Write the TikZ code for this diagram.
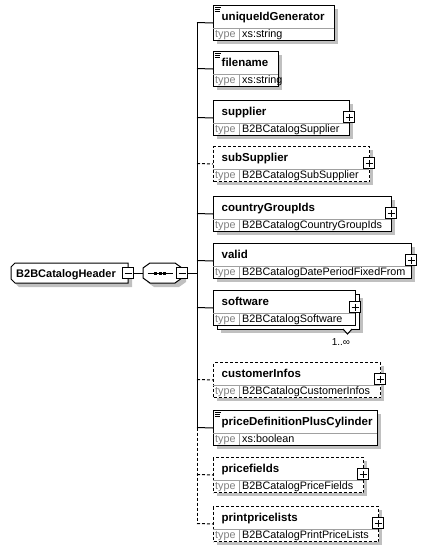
\documentclass[tikz,border=0pt]{standalone}
\usepackage{fontspec}
\setmainfont{Liberation Sans}
\definecolor{shadowgray}{HTML}{C0C0C0}
\definecolor{typegray}{HTML}{808080}
\definecolor{innergray}{HTML}{A0A0A0}
\newcommand\elemshadow[2]{%
  \fill[shadowc] (217,#1+4) rectangle (#2+4,#1+39);}
\newcommand\elembox[6]{% name, top, right, title, type, style
  \pgfmathsetmacro\elw{#3-213}%
  \node[#6, minimum width=\elw pt, minimum height=35pt, anchor=north west] (#1) at (213,#2) {};
  \draw[innerln] (213,#2+23) -- (#3,#2+23);
  \draw[innerln] (239,#2+23) -- (239,#2+35);
  \node[titletext, anchor=base west] (#1-title) at (221.5,#2+15.5) {#4};
  \node[typelbl, anchor=base west] (#1-tl) at (215,#2+32.5) {type};
  \node[typetext, anchor=base west] (#1-type) at (242,#2+32.5) {#5};
  \coordinate (#1-j) at (197,#2+17.5);}
\newcommand\plusicon[3]{% name, top, right
  \node[iconbox] (#1-plus) at (#3,#2+17) {};
  \draw[iconln] ([xshift=-3.5pt]#1-plus.center) -- ([xshift=3.5pt]#1-plus.center);
  \draw[iconln] ([yshift=-3.5pt]#1-plus.center) -- ([yshift=3.5pt]#1-plus.center);}
\newcommand\simpleicon[1]{% top
  \draw[line width=0.8pt] (214.5,#1+2.5) -- (220.5,#1+2.5);
  \draw[line width=0.8pt] (214.5,#1+4.5) -- (219.5,#1+4.5);
  \draw[line width=0.8pt] (214.5,#1+6.5) -- (219.5,#1+6.5);}
\begin{document}
\begin{tikzpicture}[x=1pt,y=-1pt,
  shadowc/.style={fill=shadowgray,draw=none},
  solidbox/.style={draw=black,fill=white,line width=1pt,inner sep=0pt},
  dashbox/.style={solidbox,dash pattern=on 3pt off 2pt},
  innerln/.style={draw=innergray,line width=0.8pt},
  titletext/.style={inner sep=0pt,font=\bfseries\fontsize{11.5}{13}\selectfont},
  typelbl/.style={inner sep=0pt,text=typegray,font=\fontsize{10.8}{12}\selectfont},
  typetext/.style={inner sep=0pt,font=\fontsize{10.8}{12}\selectfont},
  iconbox/.style={draw=black,fill=white,line width=1.2pt,minimum size=11pt,inner sep=0pt},
  iconln/.style={line width=1pt},
  conn/.style={line width=1pt},
  dashconn/.style={line width=1pt,dash pattern=on 3pt off 2pt}]
\useasboundingbox (0,0) rectangle (426,550);

% header element
\fill[shadowc] (19,267) -- (132,267) -- (132,287) -- (19,287) -- (15,283) -- (15,271) -- cycle;
\draw[line width=1pt,fill=white] (15,263) -- (128,263) -- (128,283) -- (15,283) -- (11,279) -- (11,267) -- cycle;
\node[inner sep=0pt,anchor=base west,font=\bfseries\fontsize{11}{13}\selectfont] (hdr) at (16,277) {B2BCatalogHeader};
\node[iconbox] (hdrminus) at (128,273) {};
\draw[iconln] ([xshift=-3.5pt]hdrminus.center) -- ([xshift=3.5pt]hdrminus.center);

% sequence compositor
\fill[shadowc] (154,267) -- (179,267) -- (186,272) -- (186,282) -- (179,287) -- (154,287) -- (147,282) -- (147,272) -- cycle;
\draw[line width=1pt,fill=white] (150,263) -- (175,263) -- (182,268) -- (182,278) -- (175,283) -- (150,283) -- (143,278) -- (143,268) -- cycle;
\coordinate (seqL) at (143,273);
\draw[line width=1pt] (147.5,273) -- (172.5,273);
\fill (154,271.5) rectangle (157,274.5);
\fill (158.5,271.5) rectangle (161.5,274.5);
\fill (163,271.5) rectangle (166,274.5);
\node[iconbox] (seqminus) at (182,273) {};
\draw[iconln] ([xshift=-3.5pt]seqminus.center) -- ([xshift=3.5pt]seqminus.center);
\draw[conn] (hdrminus.east) -- (seqL);
\coordinate (seqj) at (197,273);
\draw[conn] (seqminus.east) -- (seqj);

% children
\elemshadow{5}{334}
\elembox{uid}{5}{334}{uniqueIdGenerator}{xs:string}{solidbox}
\simpleicon{5}

\elemshadow{51}{278}
\elembox{fn}{51}{278}{filename}{xs:string}{solidbox}
\simpleicon{51}

\elemshadow{100}{349}
\elembox{sup}{100}{349}{supplier}{B2BCatalogSupplier}{solidbox}
\plusicon{sup}{100}{349}

\elemshadow{146}{369}
\elembox{sub}{146}{369}{subSupplier}{B2BCatalogSubSupplier}{dashbox}
\plusicon{sub}{146}{369}

\elemshadow{196}{391}
\elembox{cg}{196}{391}{countryGroupIds}{B2BCatalogCountryGroupIds}{solidbox}
\plusicon{cg}{196}{391}

\elemshadow{243}{411}
\elembox{val}{243}{411}{valid}{B2BCatalogDatePeriodFixedFrom}{solidbox}
\plusicon{val}{243}{411}

% software (repeated)
\fill[shadowc] (221,298) rectangle (363,333);
\node[solidbox, minimum width=142pt, minimum height=35pt, anchor=north west] (swback) at (217,294) {};
\draw[line width=1pt,fill=white] (343,329) -- (347.5,334) -- (352,329);
\elembox{sw}{290}{355}{software}{B2BCatalogSoftware}{solidbox}
\plusicon{sw}{290}{355}
\node[inner sep=0pt,font=\fontsize{10}{12}\selectfont] (swmult) at (341,342) {1..∞};

\elemshadow{362}{380}
\elembox{ci}{362}{380}{customerInfos}{B2BCatalogCustomerInfos}{dashbox}
\plusicon{ci}{362}{380}

\elemshadow{410}{377}
\elembox{pd}{410}{377}{priceDefinitionPlusCylinder}{xs:boolean}{solidbox}
\simpleicon{410}

\elemshadow{457}{363}
\elembox{pf}{457}{363}{pricefields}{B2BCatalogPriceFields}{dashbox}
\plusicon{pf}{457}{363}

\elemshadow{506}{378}
\elembox{pp}{506}{378}{printpricelists}{B2BCatalogPrintPriceLists}{dashbox}
\plusicon{pp}{506}{378}

% connectors
\draw[conn] (uid-j) -- (pd-j);
\draw[dashconn] (pd-j) -- (pp-j);
\draw[conn] (uid-j) -- (uid.west);
\draw[conn] (fn-j) -- (fn.west);
\draw[conn] (sup-j) -- (sup.west);
\draw[dashconn] (sub-j) -- (sub.west);
\draw[conn] (cg-j) -- (cg.west);
\draw[conn] (val-j) -- (val.west);
\draw[conn] (sw-j) -- (sw.west);
\draw[dashconn] (ci-j) -- (ci.west);
\draw[conn] (pd-j) -- (pd.west);
\draw[dashconn] (pf-j) -- (pf.west);
\draw[dashconn] (pp-j) -- (pp.west);
\end{tikzpicture}
\end{document}
